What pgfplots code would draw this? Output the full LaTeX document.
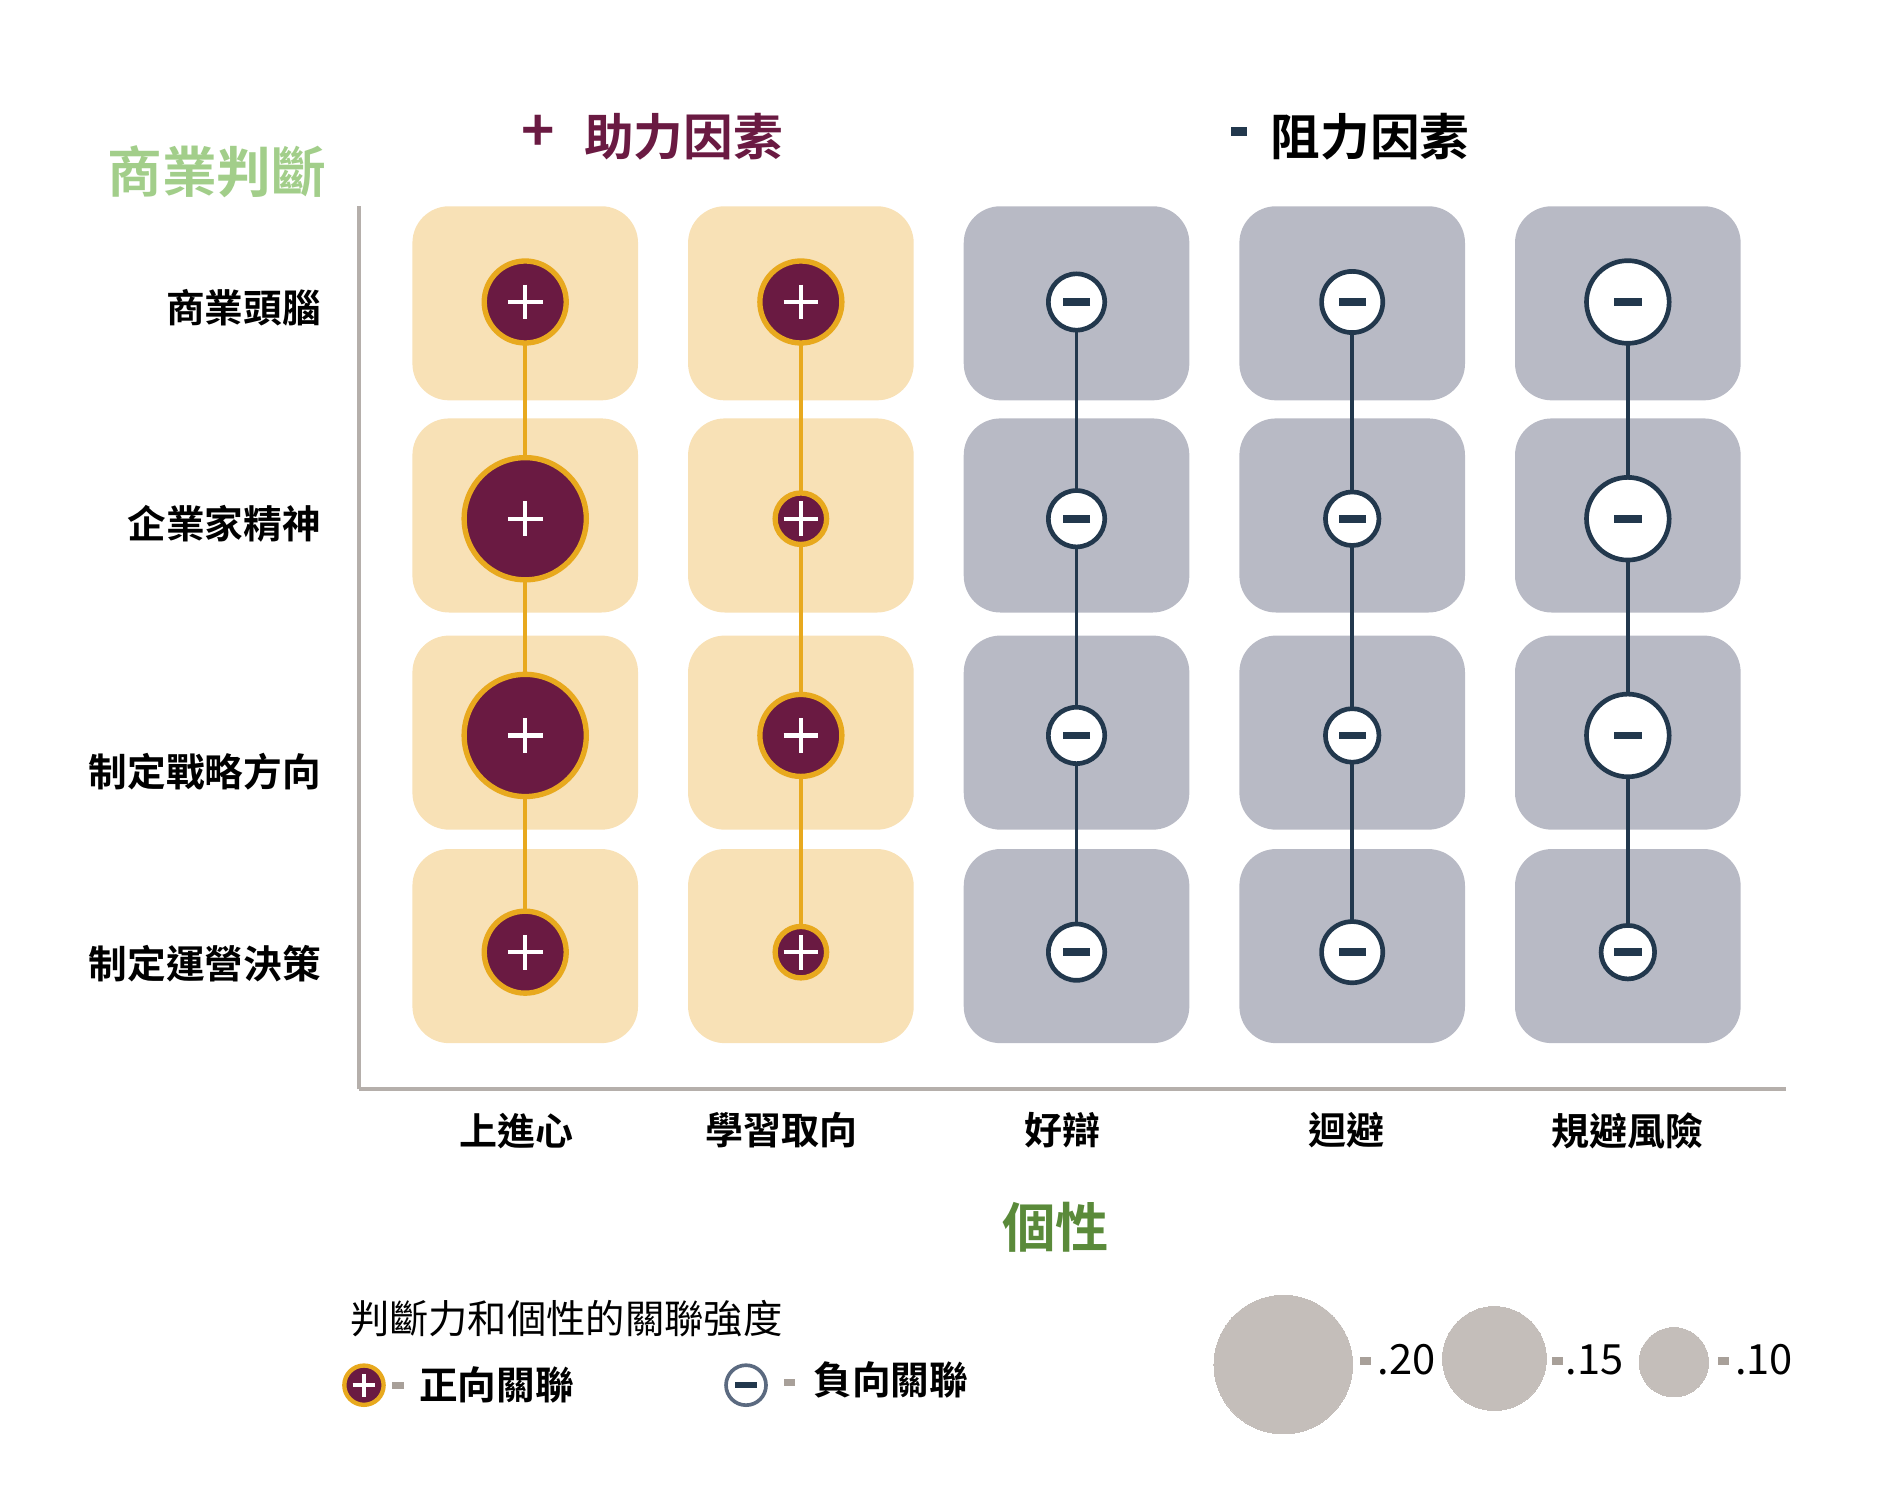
\documentclass[border=0pt]{standalone}
\usepackage{pgfplots}
\usepackage{pgfplotstable}
\pgfplotsset{compat=1.18}
\usepackage{fontspec}
\setmainfont{Noto Sans CJK TC}[BoldFont={Noto Sans CJK TC Bold}]

\definecolor{cMaroon}{RGB}{106,26,66}
\definecolor{cGold}{RGB}{232,169,30}
\definecolor{cBgY}{RGB}{248,225,182}
\definecolor{cBgG}{RGB}{184,186,197}
\definecolor{cNavy}{RGB}{34,56,77}
\definecolor{cAxis}{RGB}{181,175,171}
\definecolor{cLegG}{RGB}{196,190,186}
\definecolor{cDash}{RGB}{168,160,153}
\definecolor{cGreenL}{RGB}{162,206,138}
\definecolor{cGreenD}{RGB}{90,138,58}
\definecolor{cNegLeg}{RGB}{91,106,128}

\pgfdeclareplotmark{rbox}{%
  \pgfpathmoveto{\pgfpoint{-22.85pt}{-29.12pt}}%
  \pgfpathlineto{\pgfpoint{22.85pt}{-29.12pt}}%
  \pgfpatharc{-90}{0}{11pt}%
  \pgfpathlineto{\pgfpoint{33.85pt}{18.12pt}}%
  \pgfpatharc{0}{90}{11pt}%
  \pgfpathlineto{\pgfpoint{-22.85pt}{29.12pt}}%
  \pgfpatharc{90}{180}{11pt}%
  \pgfpathlineto{\pgfpoint{-33.85pt}{-18.12pt}}%
  \pgfpatharc{180}{270}{11pt}%
  \pgfpathclose
  \pgfusepathqfill
}

% positive associations (x = personality column, y = judgement row)
\pgfplotstableread{
x y v
0 4 0.126
0 3 0.184
0 2 0.184
0 1 0.126
1 4 0.126
1 3 0.082
1 2 0.126
1 1 0.082
}\postab
% negative associations
\pgfplotstableread{
x y v
2 4 -0.088
2 3 -0.088
2 2 -0.088
2 1 -0.088
3 4 -0.095
3 3 -0.084
3 2 -0.084
3 1 -0.095
4 4 -0.126
4 3 -0.126
4 2 -0.126
4 1 -0.084
}\negtab
% size legend
\pgfplotstableread{
x y v
2.750 -0.903 0.20
3.516 -0.875 0.15
4.167 -0.892 0.10
}\sizetab
% background tiles
\pgfplotstableread{
x y
0 3.994
0 3.015
0 2.013
0 1.028
1 3.994
1 3.015
1 2.013
1 1.028
}\bgytab
\pgfplotstableread{
x y
2 3.994
2 3.015
2 2.013
2 1.028
3 3.994
3 3.015
3 2.013
3 1.028
4 3.994
4 3.015
4 2.013
4 1.028
}\bggtab

\begin{document}
\begin{tikzpicture}
\useasboundingbox (0,0) rectangle (570.75pt,448.45pt);
\begin{axis}[
  at={(107.74pt,121.58pt)}, anchor=south west,
  scale only axis, width=428.06pt, height=265.0pt,
  xmin=-0.6029, xmax=4.5721, ymin=0.3675, ymax=4.4422,
  clip=false, clip mode=individual,
  axis lines*=left,
  axis line style={cAxis, line width=1.3pt},
  major tick length=0pt,
  xtick={0,1,2,3,4},
  xticklabels={上進心\kern5.1pt,學習取向\kern11.6pt,好辯\kern8.5pt,迴避\kern3.6pt,規避風險},
  ytick={1,2,3,4},
  yticklabels={\raisebox{-3.6pt}{制定運營決策},\raisebox{-10.9pt}{制定戰略方向},\raisebox{-1.5pt}{企業家精神},\raisebox{-1.8pt}{商業頭腦}},
  xticklabel style={anchor=center, inner sep=0pt, yshift=-12.4pt,
    font=\bfseries\fontsize{11.4}{14}\selectfont},
  yticklabel style={anchor=base east, inner sep=0pt, xshift=-11.3pt, yshift=-4.4pt,
    font=\bfseries\fontsize{11.6}{14}\selectfont},
]
% background tiles
\addplot[only marks, mark=rbox, mark options={fill=cBgY}] table[x=x,y=y]{\bgytab};
\addplot[only marks, mark=rbox, mark options={fill=cBgG}] table[x=x,y=y]{\bggtab};
% connecting lines
\addplot[cGold, line width=1.1pt] coordinates {(0,1) (0,4)};
\addplot[cGold, line width=1.1pt] coordinates {(1,1) (1,4)};
\addplot[cNavy, line width=1.1pt] coordinates {(2,1) (2,4)};
\addplot[cNavy, line width=1.1pt] coordinates {(3,1) (3,4)};
\addplot[cNavy, line width=1.1pt] coordinates {(4,1) (4,4)};
% positive circles
\addplot[scatter, only marks, mark=*,
  scatter/use mapped color={draw=cGold, fill=cMaroon},
  visualization depends on={104*abs(\thisrow{v})-0.8 \as \rad},
  scatter/@pre marker code/.append style={/tikz/mark size=\rad pt},
  mark options={line width=1.6pt}] table[x=x,y=y]{\postab};
\addplot[only marks, mark=+, mark size=5.2pt,
  mark options={draw=white, line width=1.3pt}] table[x=x,y=y]{\postab};
% negative circles
\addplot[scatter, only marks, mark=*,
  scatter/use mapped color={draw=cNavy, fill=white},
  visualization depends on={104*abs(\thisrow{v})-0.7 \as \rad},
  scatter/@pre marker code/.append style={/tikz/mark size=\rad pt},
  mark options={line width=1.4pt}] table[x=x,y=y]{\negtab};
\addplot[only marks, mark=-, mark size=4.1pt,
  mark options={draw=cNavy, line width=2.3pt}] table[x=x,y=y]{\negtab};
% legend: sign icons
\addplot[only marks, mark=*, mark size=5.9pt,
  mark options={draw=cGold, fill=cMaroon, line width=1.3pt}] coordinates {(-0.585,-0.998)};
\addplot[only marks, mark=+, mark size=3.4pt,
  mark options={draw=white, line width=1.1pt}] coordinates {(-0.585,-0.998)};
\addplot[only marks, mark=*, mark size=6.0pt,
  mark options={draw=cNegLeg, fill=white, line width=1.1pt}] coordinates {(0.801,-0.998)};
\addplot[only marks, mark=-, mark size=3.2pt,
  mark options={draw=cNavy, line width=1.8pt}] coordinates {(0.801,-0.998)};
% legend: size circles
\addplot[scatter, only marks, mark=*,
  scatter/use mapped color={draw=cLegG, fill=cLegG},
  visualization depends on={104*abs(\thisrow{v}) \as \rad},
  scatter/@pre marker code/.append style={/tikz/mark size=\rad pt},
  mark options={line width=0pt}] table[x=x,y=y]{\sizetab};
% legend: small dashes
\addplot[only marks, mark=square*, mark size=1.5pt,
  mark options={draw=cDash, fill=cDash, yscale=0.6}] coordinates
  {(-0.462,-0.998) (0.959,-0.987) (3.049,-0.886) (3.745,-0.886) (4.348,-0.886)};
\end{axis}

\begin{scope}[x=0.364pt, y=-0.364pt, shift={(0pt,448.45pt)}]
\node[anchor=west, inner sep=0pt, text=cGreenL, font=\bfseries\fontsize{16.4}{20}\selectfont] at (88,142) {商業判斷};
\node[anchor=center, inner sep=0pt, text=cMaroon, font=\bfseries\fontsize{17}{20}\selectfont] at (444,110) {+};
\node[anchor=west, inner sep=0pt, text=cMaroon, font=\bfseries\fontsize{14.9}{18}\selectfont] at (481,113) {助力因素};
\fill[cNavy] (1015,105) rectangle (1028,112);
\node[anchor=west, inner sep=0pt, text=black, font=\bfseries\fontsize{14.9}{18}\selectfont] at (1047,113) {阻力因素};
\node[anchor=center, inner sep=0pt, text=cGreenD, font=\bfseries\fontsize{16}{20}\selectfont] at (870,1012) {個性};
\node[anchor=west, inner sep=0pt, text=black, font=\fontsize{11.8}{14}\selectfont] at (288,1087) {判斷力和個性的關聯強度};
\node[anchor=west, inner sep=0pt, text=black, font=\bfseries\fontsize{11.6}{14}\selectfont] at (345,1142) {正向關聯};
\node[anchor=west, inner sep=0pt, text=black, font=\bfseries\fontsize{11.6}{14}\selectfont] at (670,1138) {負向關聯};
\node[anchor=west, inner sep=0pt, text=black, font=\fontsize{12.5}{15}\selectfont] at (1135,1121) {.20};
\node[anchor=west, inner sep=0pt, text=black, font=\fontsize{12.5}{15}\selectfont] at (1290,1121) {.15};
\node[anchor=west, inner sep=0pt, text=black, font=\fontsize{12.5}{15}\selectfont] at (1430,1121) {.10};
\end{scope}
\end{tikzpicture}
\end{document}
